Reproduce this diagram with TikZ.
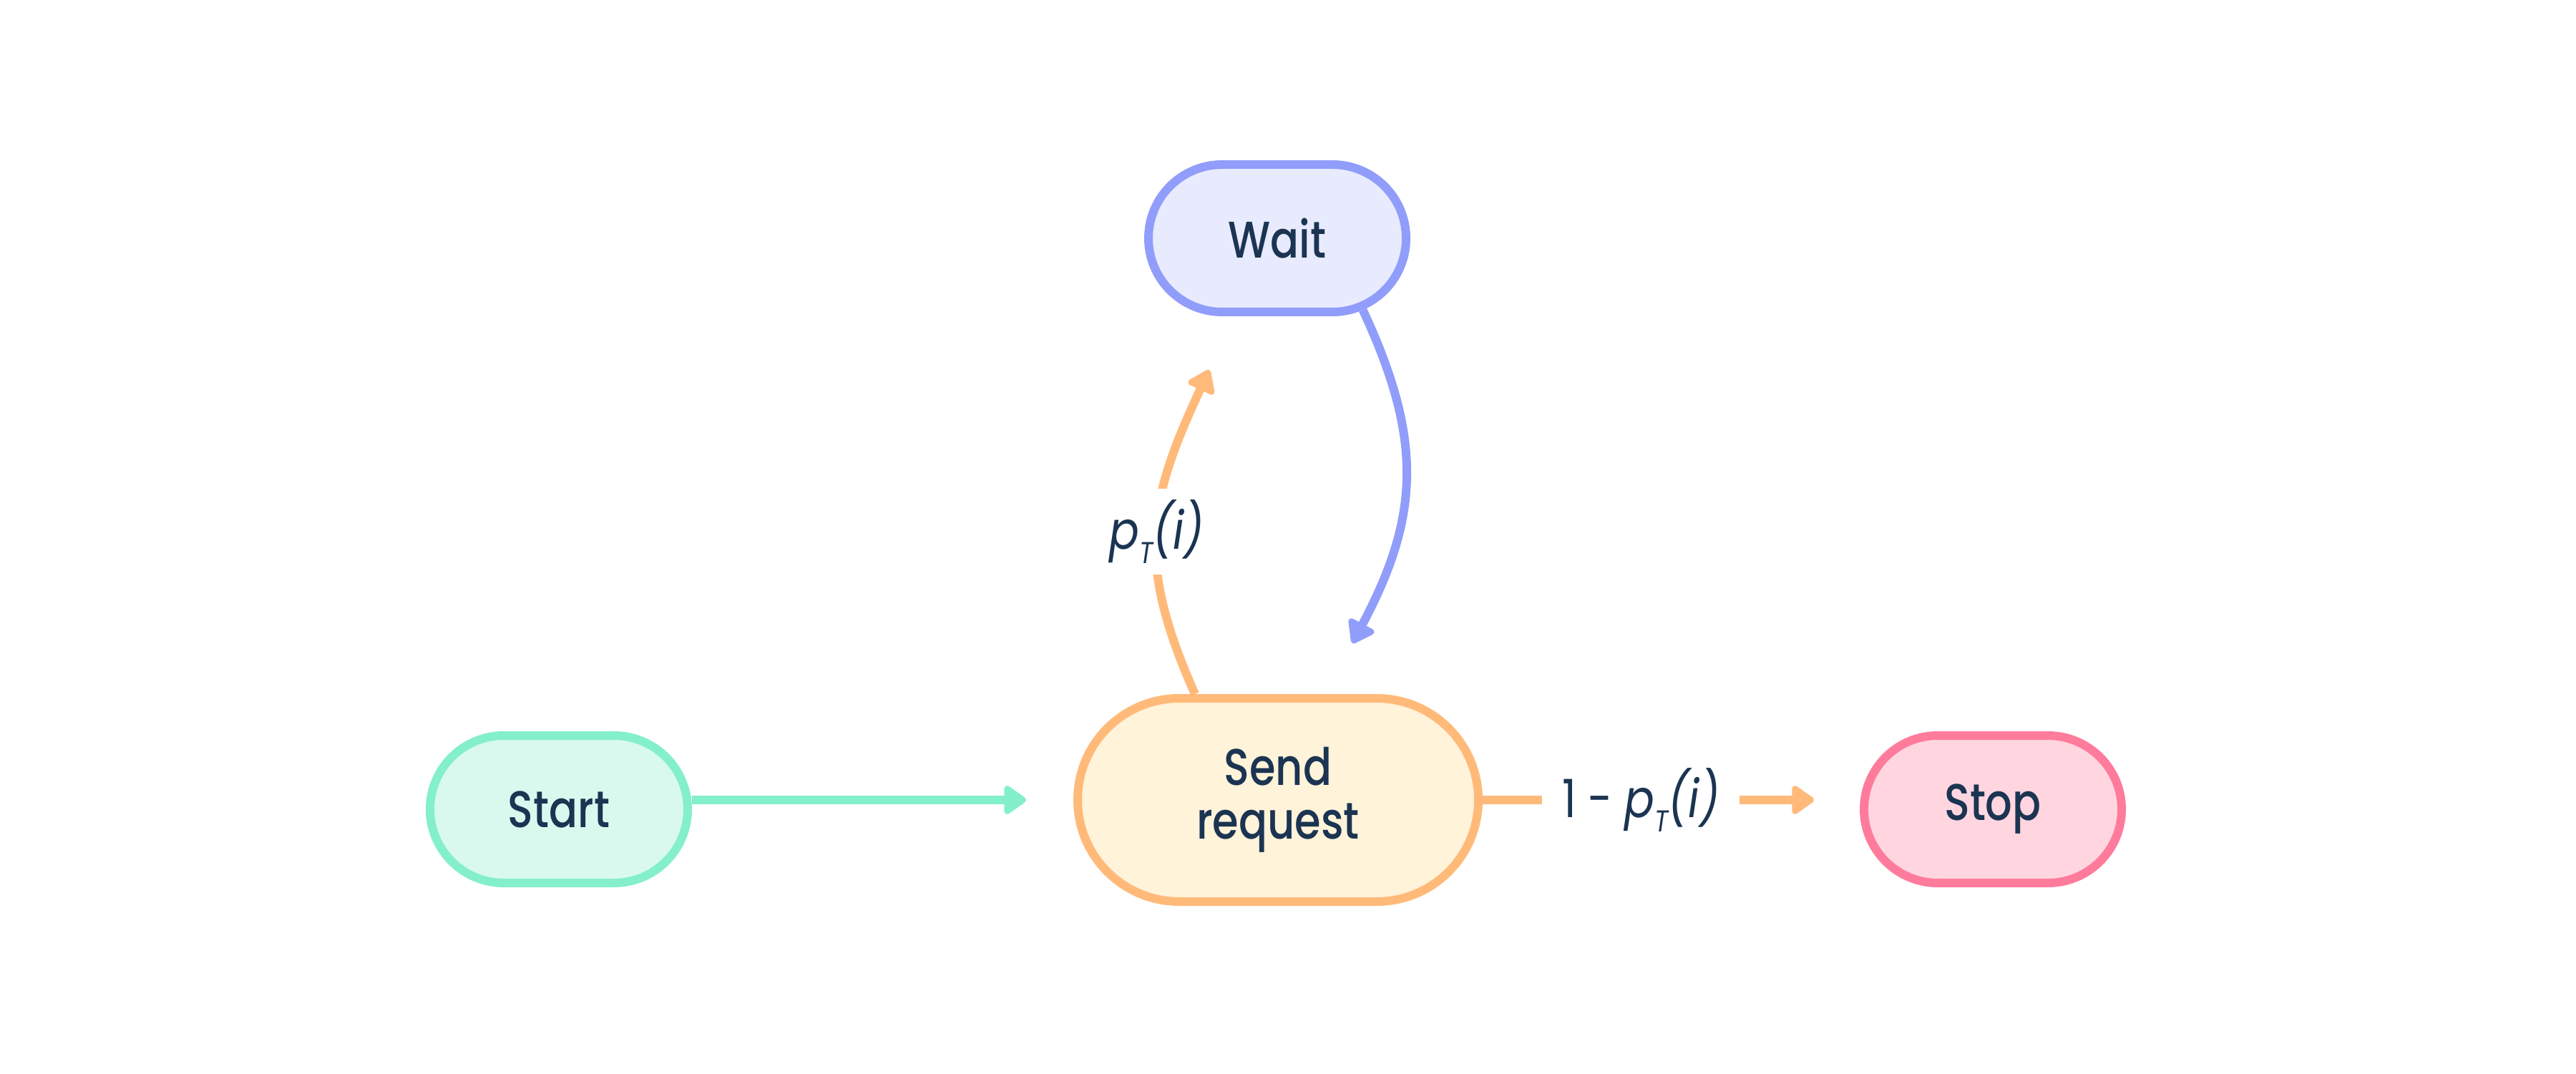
\documentclass[tikz,border=0pt]{standalone}
\usepackage{fontspec}
\setmainfont{Poppins Medium}[FakeStretch=0.82]
\newfontfamily\lblfont{Poppins}[FakeStretch=0.84]
\usetikzlibrary{shapes.misc,arrows.meta}
\definecolor{ink}{HTML}{1B3452}
\definecolor{mintline}{HTML}{84EFCB}
\definecolor{mintfill}{HTML}{D9F9EE}
\definecolor{peachline}{HTML}{FFBA7A}
\definecolor{peachfill}{HTML}{FFF3D9}
\definecolor{lilacline}{HTML}{909DFB}
\definecolor{lilacfill}{HTML}{E8EBFE}
\definecolor{roseline}{HTML}{FF7B9C}
\definecolor{rosefill}{HTML}{FFD6E0}
\newcommand{\probsub}[1]{\raisebox{-0.5ex}{\fontsize{12}{12}\selectfont #1}}
\tikzset{
    state/.style={rounded rectangle, line width=1.2mm, minimum width=3.6cm, minimum height=2.06cm, inner sep=0, text=ink, align=center, font=\fontsize{20.5}{21.3}\selectfont},
    mint/.style={state, draw=mintline, fill=mintfill},
    peach/.style={state, draw=peachline, fill=peachfill, minimum width=5.6cm, minimum height=2.84cm},
    lilac/.style={state, draw=lilacline, fill=lilacfill},
    rose/.style={state, draw=roseline, fill=rosefill},
    flow/.style={draw=#1, line width=1.2mm, -{Triangle[length=3.4mm, width=4.5mm, round]}},
    prob/.style={fill=white, text=ink, inner xsep=2.8mm, inner ysep=1.5mm, font=\lblfont\fontsize{21}{21}\selectfont}
}

\begin{document}
\begin{tikzpicture}
    \useasboundingbox (0,0) rectangle (36,15);
    \node[mint] (start) at (7.81,3.69) {Start};
    \node[peach] (send) at (17.86,3.82) {Send\\request};
    \node[lilac] (wait) at (17.85,11.67) {Wait};
    \node[rose] (stop) at (27.85,3.69) {Stop};

    \draw[flow=mintline, shorten >=6.6mm] (start.east |- send.west) -- (send.west);
    \draw[flow=peachline, shorten >=6.4mm] (send.east) -- node[prob, pos=0.42] {1 - \textit{p\probsub{T}(i)}} (send.east -| stop.west);
    \draw[flow=peachline] ([xshift=-1.16cm]send.north) to[out=114, in=245, looseness=1.15] node[prob] {\textit{p\probsub{T}(i)}} ([xshift=-0.95cm, yshift=-0.75cm]wait.south);
    \draw[flow=lilacline] (wait.-40) to[out=-65, in=62, looseness=1.1] ([xshift=1.04cm, yshift=0.71cm]send.north);
\end{tikzpicture}
\end{document}
